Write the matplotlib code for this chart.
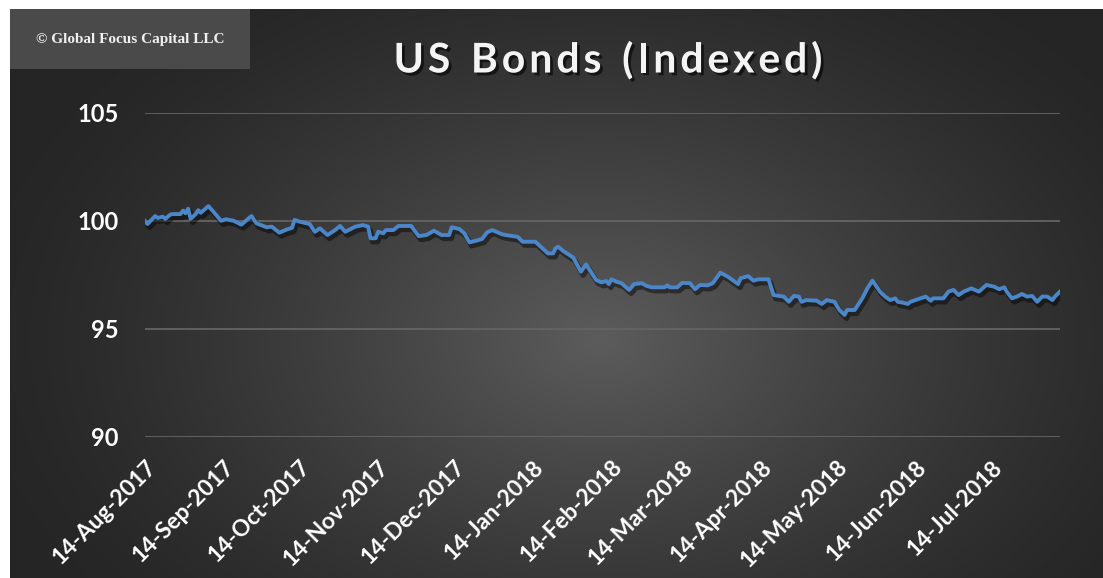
import numpy as np
import pandas as pd
import matplotlib
matplotlib.use("Agg")
import matplotlib.pyplot as plt
import matplotlib.dates as mdates
import matplotlib.patheffects as pe
from matplotlib.patches import Rectangle

# ---------------- data ----------------
dates = [
    "2017-08-14", "2017-08-15", "2017-08-18", "2017-08-19", "2017-08-21", "2017-08-22",
    "2017-08-24", "2017-08-25", "2017-08-28", "2017-08-29", "2017-08-30", "2017-08-31",
    "2017-09-01", "2017-09-03", "2017-09-04", "2017-09-05", "2017-09-08", "2017-09-10",
    "2017-09-13", "2017-09-15", "2017-09-18", "2017-09-21", "2017-09-25", "2017-09-27",
    "2017-10-01", "2017-10-03", "2017-10-06", "2017-10-09", "2017-10-11", "2017-10-12",
    "2017-10-14", "2017-10-18", "2017-10-20", "2017-10-22", "2017-10-25", "2017-10-28",
    "2017-10-30", "2017-11-01", "2017-11-05", "2017-11-08", "2017-11-10", "2017-11-11",
    "2017-11-13", "2017-11-14", "2017-11-16", "2017-11-17", "2017-11-20", "2017-11-22",
    "2017-11-27", "2017-11-30", "2017-12-03", "2017-12-06", "2017-12-09", "2017-12-12",
    "2017-12-13", "2017-12-16", "2017-12-18", "2017-12-20", "2017-12-23", "2017-12-25",
    "2017-12-27", "2017-12-29", "2018-01-02", "2018-01-05", "2018-01-08", "2018-01-10",
    "2018-01-15", "2018-01-20", "2018-01-22", "2018-01-23", "2018-01-24", "2018-01-26",
    "2018-01-28", "2018-01-30", "2018-02-02", "2018-02-04", "2018-02-08", "2018-02-10",
    "2018-02-12", "2018-02-13", "2018-02-14", "2018-02-16", "2018-02-18", "2018-02-21",
    "2018-02-23", "2018-02-26", "2018-02-28", "2018-03-02", "2018-03-07", "2018-03-08",
    "2018-03-09", "2018-03-12", "2018-03-14", "2018-03-17", "2018-03-19", "2018-03-21",
    "2018-03-24", "2018-03-26", "2018-03-29", "2018-04-01", "2018-04-05", "2018-04-06",
    "2018-04-09", "2018-04-11", "2018-04-13", "2018-04-17", "2018-04-19", "2018-04-23",
    "2018-04-25", "2018-04-27", "2018-04-29", "2018-04-30", "2018-05-02", "2018-05-06",
    "2018-05-08", "2018-05-10", "2018-05-13", "2018-05-15", "2018-05-17", "2018-05-18",
    "2018-05-21", "2018-05-24", "2018-05-26", "2018-05-28", "2018-05-31", "2018-06-02",
    "2018-06-04", "2018-06-06", "2018-06-07", "2018-06-09", "2018-06-11", "2018-06-12",
    "2018-06-16", "2018-06-18", "2018-06-20", "2018-06-21", "2018-06-25", "2018-06-27",
    "2018-06-29", "2018-07-01", "2018-07-03", "2018-07-06", "2018-07-09", "2018-07-12",
    "2018-07-15", "2018-07-17", "2018-07-19", "2018-07-20", "2018-07-22", "2018-07-24",
    "2018-07-26", "2018-07-28", "2018-07-30", "2018-08-01", "2018-08-03", "2018-08-05",
    "2018-08-07", "2018-08-08", "2018-08-10",
]
values = [
    100.00, 99.86, 100.23, 100.14, 100.20, 100.10,
    100.30, 100.32, 100.32, 100.48, 100.36, 100.57,
    100.10, 100.32, 100.50, 100.38, 100.69, 100.43,
    100.01, 100.08, 100.01, 99.83, 100.23, 99.89,
    99.71, 99.74, 99.46, 99.61, 99.68, 100.05,
    99.97, 99.86, 99.50, 99.66, 99.35, 99.58,
    99.77, 99.50, 99.74, 99.81, 99.74, 99.20,
    99.20, 99.50, 99.43, 99.58, 99.58, 99.77,
    99.77, 99.30, 99.35, 99.55, 99.35, 99.35,
    99.71, 99.63, 99.43, 99.01, 99.10, 99.17,
    99.48, 99.58, 99.38, 99.32, 99.27, 99.04,
    99.04, 98.50, 98.50, 98.74, 98.81, 98.61,
    98.46, 98.30, 97.65, 97.99, 97.27, 97.16,
    97.22, 97.08, 97.30, 97.19, 97.12, 96.81,
    97.08, 97.12, 96.99, 96.93, 96.93, 97.02,
    96.93, 96.93, 97.14, 97.12, 96.84, 97.04,
    97.02, 97.12, 97.61, 97.42, 97.08, 97.35,
    97.45, 97.24, 97.30, 97.30, 96.57, 96.50,
    96.26, 96.53, 96.50, 96.26, 96.34, 96.31,
    96.16, 96.34, 96.26, 95.88, 95.65, 95.88,
    95.88, 96.42, 96.88, 97.24, 96.73, 96.50,
    96.34, 96.42, 96.26, 96.22, 96.16, 96.26,
    96.42, 96.50, 96.31, 96.42, 96.42, 96.73,
    96.81, 96.57, 96.73, 96.88, 96.73, 97.04,
    96.96, 96.84, 96.93, 96.73, 96.42, 96.50,
    96.62, 96.50, 96.53, 96.26, 96.50, 96.50,
    96.34, 96.50, 96.73,
]
tick_dates = ["2017-08-14", "2017-09-14", "2017-10-14", "2017-11-14", "2017-12-14",
              "2018-01-14", "2018-02-14", "2018-03-14", "2018-04-14", "2018-05-14",
              "2018-06-14", "2018-07-14"]
y_ticks = [90, 95, 100, 105]
title = "US Bonds (Indexed)"
watermark = "© Global Focus Capital LLC"

# ---------------- figure ----------------
W, H = 1103, 578
fig = plt.figure(figsize=(W / 100, H / 100), dpi=100, facecolor="white")

# background panel with radial gradient
bx0, by0 = 10, 9
bg = fig.add_axes([bx0 / W, 0, (W - bx0) / W, (H - by0) / H], zorder=0)
bg.set_axis_off()
gw, gh = W - bx0, H - by0
yy, xx = np.mgrid[0:gh, 0:gw]
cx, cy = 590, 330
r = np.sqrt(((xx - cx) / 620.0) ** 2 + ((yy - cy) / 420.0) ** 2)
r = np.clip(r, 0, 1)
c_center, c_edge = 92, 38
val = c_edge + (c_center - c_edge) * (1 - r) ** 1.3
img = np.dstack([val, val, val]) / 255.0
bg.imshow(img, aspect="auto", extent=[0, 1, 0, 1], origin="upper")
bg.set_xlim(0, 1)
bg.set_ylim(0, 1)

# watermark box
fig.patches.append(Rectangle((bx0 / W, 1 - 69 / H), (250 - bx0) / W, (69 - by0) / H,
                             transform=fig.transFigure, facecolor="#4a4a4a",
                             edgecolor="none", zorder=1))
fig.text(130 / W, 1 - 40 / H, watermark, ha="center", va="center", color="#f0f0f0",
         fontsize=11, fontweight="bold", family="Liberation Serif", zorder=2)

# title with letter spacing (characters placed one by one)
renderer = fig.canvas.get_renderer()
t_size, t_spacing = 29.5, 3.9
shadow = [pe.withSimplePatchShadow(offset=(2, -2), shadow_rgbFace="black", alpha=0.6)]
widths = []
for ch in title:
    t = fig.text(0, 0, ch if ch != " " else "n", fontsize=t_size, fontweight="bold",
                 family="Lato")
    w = t.get_window_extent(renderer).width
    widths.append(w * (0.55 if ch == " " else 1.0))
    t.remove()
total = sum(widths) + t_spacing * (len(title) - 1)
xpos = 608 - total / 2
for ch, w in zip(title, widths):
    if ch != " ":
        fig.text(xpos / W, 1 - 61 / H, ch, ha="left", va="center", color="#f4f4f4",
                 fontsize=t_size, fontweight="bold", family="Lato", zorder=3,
                 path_effects=shadow)
    xpos += w + t_spacing

# plot axes
ax_l, ax_r, ax_t, ax_b = 145, 1060, 113, 437
ax = fig.add_axes([ax_l / W, 1 - ax_b / H, (ax_r - ax_l) / W, (ax_b - ax_t) / H], zorder=2)
ax.patch.set_alpha(0)

x = pd.to_datetime(dates)
ax.plot(x, values, color="#4a86c8", lw=2.8, solid_joinstyle="round",
        path_effects=[pe.SimpleLineShadow(offset=(1.5, -2.5), shadow_color="black",
                                          alpha=0.45, linewidth=3.8), pe.Normal()],
        zorder=3)

ax.set_xlim(x[0], x[-1])
ax.set_ylim(90, 105)
ax.set_yticks(y_ticks)
ax.set_xticks(pd.to_datetime(tick_dates))
ax.xaxis.set_major_formatter(mdates.DateFormatter("%d-%b-%Y"))
ax.grid(axis="y", color="#646464", lw=1.3)
ax.grid(axis="x", visible=False)
for s in ax.spines.values():
    s.set_visible(False)
ax.tick_params(axis="both", length=0, colors="white")
ax.tick_params(axis="y", pad=19)
ax.tick_params(axis="x", pad=14)
for lab in ax.get_yticklabels():
    lab.set_fontsize(17)
    lab.set_fontweight("bold")
    lab.set_family("Lato")
for lab in ax.get_xticklabels():
    lab.set_fontsize(16.5)
    lab.set_fontweight("bold")
    lab.set_family("Lato")
    lab.set_rotation(45)
    lab.set_ha("right")
    lab.set_va("top")
    lab.set_rotation_mode("anchor")

fig.savefig("out.png", dpi=100, facecolor="white")
